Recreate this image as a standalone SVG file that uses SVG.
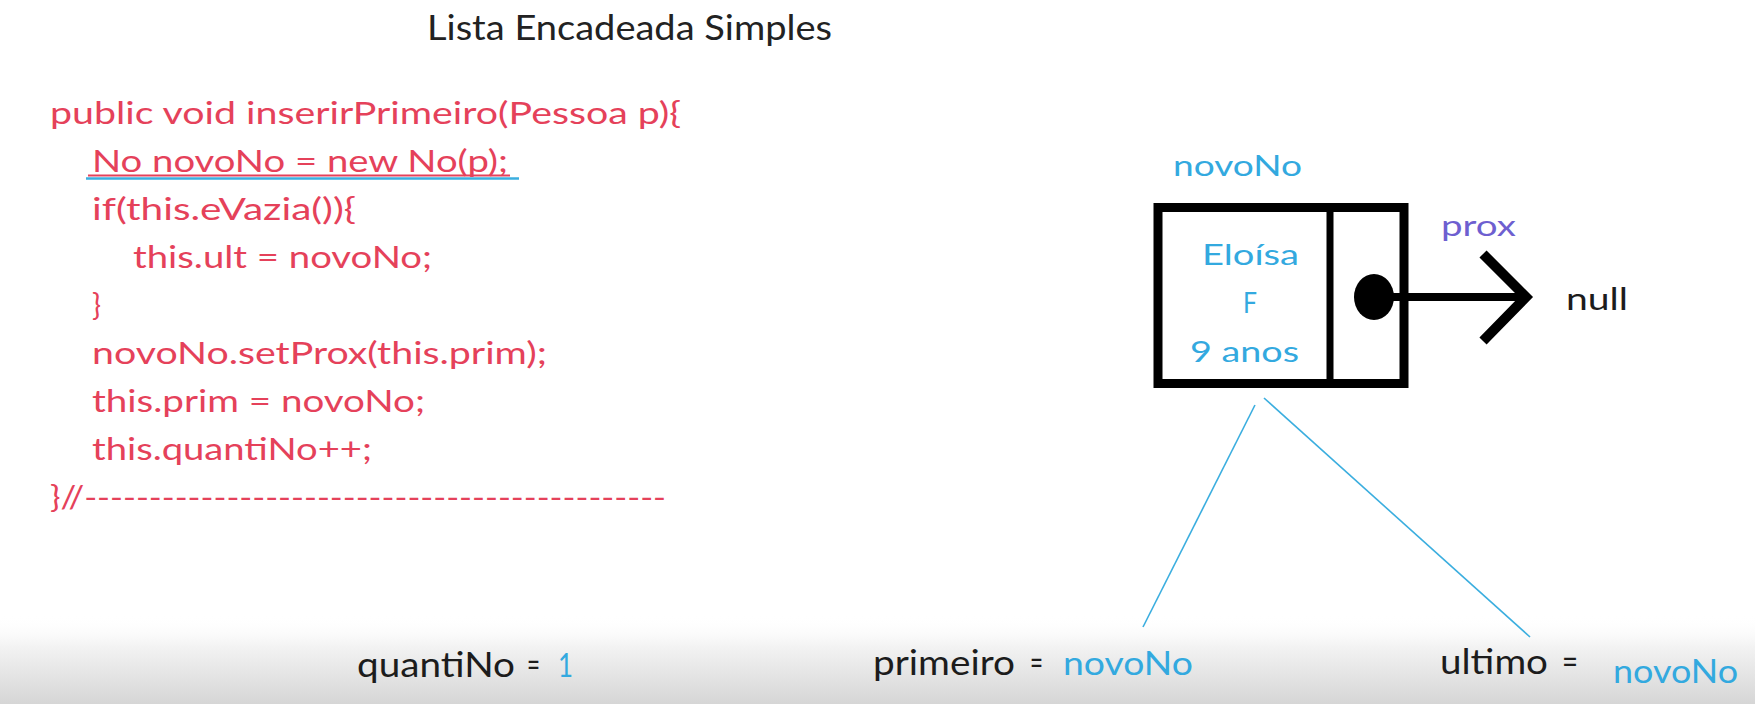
<svg xmlns="http://www.w3.org/2000/svg" width="1755" height="704" viewBox="0 0 1755 704">
  <style>
    text { font-family: "Lato", "Liberation Sans", sans-serif; }
    .title { font-size: 34px; fill: #222222; }
    .code { font-size: 30px; fill: #E5415A; }
    .val { font-size: 28px; fill: #33A9DF; }
    .lbl { font-size: 34px; fill: #1c1c1c; }
    .lblv { font-size: 33px; fill: #33A9DF; }
    .prox { font-size: 28px; fill: #6E5FD0; }
    .blk { font-size: 30px; fill: #1c1c1c; }
    .box { fill: #ffffff; stroke: #000000; stroke-width: 9; }
    .ptr { stroke: #000000; fill: none; }
    .link { stroke: #3BAEDF; stroke-width: 1.6; fill: none; }
  </style>
  <defs>
    <linearGradient id="footer" x1="0" y1="0" x2="0" y2="1">
      <stop offset="0" stop-color="#ffffff" stop-opacity="0"/>
      <stop offset="0.35" stop-color="#f3f3f3"/>
      <stop offset="1" stop-color="#d6d6d6"/>
    </linearGradient>
  </defs>

  <rect x="0" y="0" width="1755" height="704" fill="#ffffff"/>
  <rect x="0" y="615" width="1755" height="89" fill="url(#footer)"/>

  <!-- heading -->
  <text class="title" x="427" y="40" textLength="405" lengthAdjust="spacingAndGlyphs">Lista Encadeada Simples</text>

  <!-- method source -->
  <g id="code">
    <text class="code" x="50" y="124" textLength="631" lengthAdjust="spacingAndGlyphs">public void inserirPrimeiro(Pessoa p){</text>
    <text class="code" x="92" y="172" textLength="416" lengthAdjust="spacingAndGlyphs">No novoNo = new No(p);</text>
    <line x1="88" y1="175.5" x2="510" y2="175.5" stroke="#E5415A" stroke-width="2"/>
    <line x1="86" y1="178.5" x2="519" y2="178.5" stroke="#3BAEDF" stroke-width="2.5"/>
    <text class="code" x="92" y="220" textLength="264" lengthAdjust="spacingAndGlyphs">if(this.eVazia()){</text>
    <text class="code" x="133" y="268" textLength="299" lengthAdjust="spacingAndGlyphs">this.ult = novoNo;</text>
    <text class="code" x="92" y="316">}</text>
    <text class="code" x="92" y="364" textLength="455" lengthAdjust="spacingAndGlyphs">novoNo.setProx(this.prim);</text>
    <text class="code" x="92" y="412" textLength="333" lengthAdjust="spacingAndGlyphs">this.prim = novoNo;</text>
    <text class="code" x="92" y="460" textLength="280" lengthAdjust="spacingAndGlyphs">this.quantiNo++;</text>
    <text class="code" x="50" y="508" textLength="616" lengthAdjust="spacingAndGlyphs">}//---------------------------------------------</text>
  </g>

  <!-- list node -->
  <g id="node-novoNo">
    <text class="val" x="1173" y="176" textLength="129" lengthAdjust="spacingAndGlyphs">novoNo</text>
    <rect class="box" x="1158" y="207.5" width="246" height="176"/>
    <line x1="1330" y1="207.5" x2="1330" y2="383.5" stroke="#000000" stroke-width="7"/>
    <text class="val" x="1202" y="265" textLength="97" lengthAdjust="spacingAndGlyphs">Eloísa</text>
    <text class="val" x="1243" y="313" textLength="14" lengthAdjust="spacingAndGlyphs">F</text>
    <text class="val" x="1190" y="362" textLength="109" lengthAdjust="spacingAndGlyphs">9 anos</text>
    <ellipse cx="1374" cy="297" rx="20" ry="23" fill="#000000"/>
  </g>

  <g id="node-null">
    <text class="blk" x="1566" y="310" textLength="62" lengthAdjust="spacingAndGlyphs">null</text>
  </g>

  <g id="node-quantiNo">
    <text class="lbl" x="357" y="677" textLength="158" lengthAdjust="spacingAndGlyphs">quantiNo</text>
    <text class="lbl" x="527" y="677" textLength="13" lengthAdjust="spacingAndGlyphs">=</text>
    <text class="lblv" x="558" y="677" textLength="15" lengthAdjust="spacingAndGlyphs">1</text>
  </g>

  <g id="node-primeiro">
    <text class="lbl" x="873" y="675" textLength="142" lengthAdjust="spacingAndGlyphs">primeiro</text>
    <text class="lbl" x="1030" y="675" textLength="13" lengthAdjust="spacingAndGlyphs">=</text>
    <text class="lblv" x="1063" y="675" textLength="130" lengthAdjust="spacingAndGlyphs">novoNo</text>
  </g>

  <g id="node-ultimo">
    <text class="lbl" x="1440" y="674" textLength="108" lengthAdjust="spacingAndGlyphs">ultimo</text>
    <text class="lbl" x="1562" y="674" textLength="16" lengthAdjust="spacingAndGlyphs">=</text>
    <text class="lblv" x="1613" y="683" textLength="125" lengthAdjust="spacingAndGlyphs">novoNo</text>
  </g>

  <!-- pointers -->
  <g id="connectors">
    <line class="ptr" x1="1374" y1="297" x2="1524" y2="297" stroke-width="8"/>
    <polyline class="ptr" points="1483,254 1526,297 1483,341" stroke-width="10" stroke-linejoin="miter"/>
    <text class="prox" x="1441" y="236" textLength="75" lengthAdjust="spacingAndGlyphs">prox</text>
    <line class="link" x1="1255" y1="405" x2="1143" y2="627"/>
    <line class="link" x1="1264" y1="398" x2="1530" y2="637"/>
  </g>
</svg>
